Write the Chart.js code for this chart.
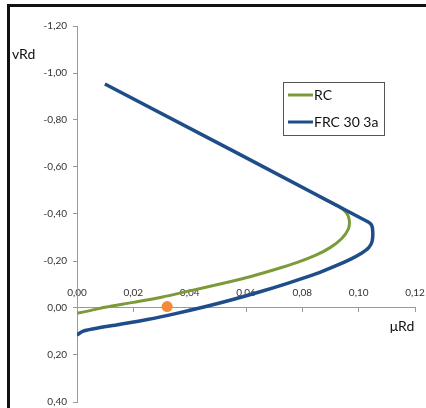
<!DOCTYPE html>
<html>
<head>
<meta charset="utf-8">
<script src="https://cdn.jsdelivr.net/npm/chart.js@4"></script>
<style>
  html, body { margin: 0; padding: 0; background: #fff; }
  #wrap { position: relative; width: 426px; height: 408px; overflow: hidden; }
  #frame { position: absolute; left: 7px; top: 4px; width: 440px; height: 430px; border: 3px solid #111; pointer-events: none; }
  canvas { position: absolute; left: 0; top: 0; }
</style>
</head>
<body>
<div id="wrap">
  <canvas id="chart" width="426" height="408"></canvas>
  <div id="frame"></div>
</div>
<script>
// axis ranges
const muMin = 0, muMax = 0.12, muStep = 0.02;
const nuMin = -1.2, nuMax = 0.4, nuStep = 0.2;

// RC interaction curve (μRd, vRd)
const rcMu = [0.000, 0.005, 0.010, 0.020, 0.030, 0.040, 0.050, 0.060, 0.070, 0.078, 0.085, 0.090, 0.094, 0.0963, 0.0967, 0.0958, 0.0934, 0.0905, 0.086];
const rcNu = [0.023, 0.010, -0.003, -0.024, -0.046, -0.073, -0.100, -0.129, -0.163, -0.193, -0.226, -0.258, -0.296, -0.335, -0.372, -0.403, -0.430, -0.447, -0.475];

// FRC 30 3a interaction curve
const frcMu = [0.000, 0.002, 0.006, 0.015, 0.025, 0.035, 0.045, 0.055, 0.065, 0.075, 0.085, 0.092, 0.097, 0.101, 0.1035, 0.1048, 0.1048, 0.1034, 0.0099];
const frcNu = [0.115, 0.099, 0.088, 0.070, 0.049, 0.024, -0.004, -0.035, -0.069, -0.106, -0.146, -0.180, -0.207, -0.233, -0.256, -0.285, -0.345, -0.366, -0.953];

// design point
const pointMu = [0.032];
const pointNu = [-0.006];

const toXY = (xs, ys) => xs.map((x, i) => ({x: x, y: ys[i]}));
const comma = v => Number(v).toFixed(2).replace('.', ',');

const FONT = 'Lato, "Open Sans", sans-serif';

// keep the layout padding exact, labels may overflow the plot edges
const noPad = s => { s.paddingLeft = s.paddingRight = s.paddingTop = s.paddingBottom = 0; };

const overlayPlugin = {
  id: 'overlay',
  afterDraw(chart) {
    const ctx = chart.ctx;
    ctx.save();
    // axis titles
    ctx.fillStyle = '#111';
    ctx.font = '14px ' + FONT;
    ctx.textBaseline = 'middle';
    ctx.textAlign = 'left';
    ctx.fillText('vRd', 12, 54);
    ctx.textAlign = 'center';
    ctx.fillText('μRd', 402, 326);

    // legend box
    const bx = 283.5, by = 82.5, bw = 101, bh = 53;
    ctx.strokeStyle = '#555';
    ctx.lineWidth = 1;
    ctx.strokeRect(bx, by, bw, bh);
    const items = chart.data.datasets.filter(d => d.showLine);
    items.forEach((d, i) => {
      const y = 95 + i * 27;
      ctx.strokeStyle = d.borderColor;
      ctx.lineWidth = 3;
      ctx.beginPath();
      ctx.moveTo(288, y);
      ctx.lineTo(313, y);
      ctx.stroke();
      ctx.fillStyle = '#111';
      ctx.textAlign = 'left';
      ctx.font = '14px ' + FONT;
      ctx.fillText(d.label, 314, y);
    });
    ctx.restore();
  }
};

new Chart(document.getElementById('chart'), {
  type: 'scatter',
  data: {
    datasets: [
      {
        label: 'RC',
        data: toXY(rcMu, rcNu),
        showLine: true,
        borderColor: '#7b9b3a',
        borderWidth: 3,
        pointRadius: 0,
        tension: 0.3,
        fill: false,
        order: 2
      },
      {
        label: 'FRC 30 3a',
        data: toXY(frcMu, frcNu),
        showLine: true,
        borderColor: '#1f4d89',
        borderWidth: 3.5,
        pointRadius: 0,
        tension: 0.3,
        fill: false,
        order: 1
      },
      {
        label: 'point',
        data: toXY(pointMu, pointNu),
        showLine: false,
        pointRadius: 5.5,
        pointBackgroundColor: '#f58a38',
        pointBorderWidth: 0,
        order: 0
      }
    ]
  },
  options: {
    responsive: false,
    animation: false,
    devicePixelRatio: 1,
    layout: { padding: { left: 0, top: 26, right: 11, bottom: 6 } },
    plugins: {
      legend: { display: false },
      tooltip: { enabled: false }
    },
    scales: {
      x: {
        type: 'linear',
        min: muMin,
        max: muMax,
        position: { y: 0 },
        border: { color: '#9a9a9a', width: 1 },
        grid: { drawOnChartArea: false, tickLength: 4, color: '#9a9a9a' },
        ticks: {
          stepSize: muStep,
          padding: -25,
          maxRotation: 0,
          autoSkip: false,
          color: '#333',
          font: { family: FONT, size: 10 },
          callback: v => comma(v)
        },
        afterFit: noPad
      },
      y: {
        type: 'linear',
        min: nuMin,
        max: nuMax,
        reverse: true,
        border: { color: '#9a9a9a', width: 1 },
        grid: { drawOnChartArea: false, tickLength: 4, color: '#9a9a9a' },
        ticks: {
          stepSize: nuStep,
          padding: 6,
          color: '#333',
          font: { family: FONT, size: 10 },
          callback: v => comma(v)
        },
        afterFit: s => { s.width = 77; noPad(s); }
      }
    }
  },
  plugins: [overlayPlugin]
});
</script>
</body>
</html>
